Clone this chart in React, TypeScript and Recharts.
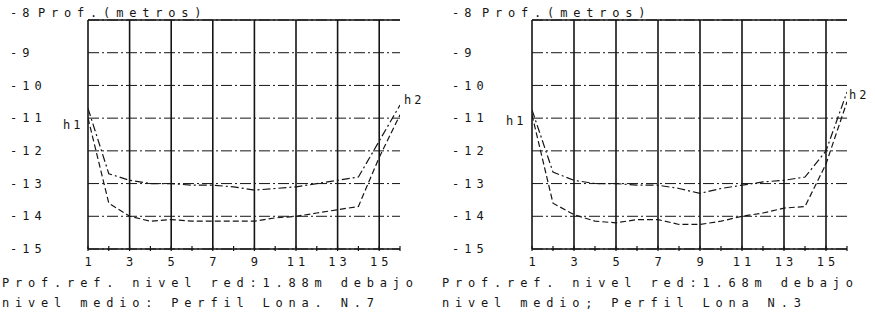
import React from 'react';
import { LineChart, Line, XAxis, YAxis, CartesianGrid, ReferenceLine } from 'recharts';

// Stations along the profile (x axis)
const stations = [1, 2, 3, 4, 5, 6, 7, 8, 9, 10, 11, 12, 13, 14, 15, 16];
const xTicks = [1, 2, 3, 4, 5, 6, 7, 8, 9, 10, 11, 12, 13, 14, 15, 16];
const xLabelTicks = [1, 3, 5, 7, 9, 11, 13, 15];
const yTicks = [-15, -14, -13, -12, -11, -10, -9, -8];

// Left panel (Perfil Lona N.7)
const leftUpper = [-10.7, -12.7, -12.9, -13.0, -13.0, -13.05, -13.05, -13.1, -13.2, -13.15, -13.1, -13.0, -12.9, -12.8, -11.7, -10.6];
const leftLower = [-11.0, -13.6, -14.0, -14.15, -14.1, -14.15, -14.15, -14.15, -14.15, -14.05, -14.0, -13.9, -13.8, -13.7, -12.2, -10.9];

// Right panel (Perfil Lona N.3)
const rightUpper = [-10.75, -12.65, -12.9, -13.0, -13.0, -13.05, -13.05, -13.15, -13.3, -13.15, -13.05, -12.95, -12.9, -12.8, -12.0, -10.2];
const rightLower = [-10.9, -13.6, -13.95, -14.15, -14.2, -14.1, -14.1, -14.25, -14.25, -14.15, -14.0, -13.9, -13.75, -13.7, -12.4, -10.5];

const titleText = 'Prof.(metros)';
const leftNotes = ['Prof.ref. nivel red:1.88m debajo', 'nivel medio: Perfil Lona. N.7'];
const rightNotes = ['Prof.ref. nivel red:1.68m debajo', 'nivel medio; Perfil Lona N.3'];

const FONT = '"DejaVu Sans Mono", "Liberation Mono", monospace';
const INK = '#151515';
const textStyle: React.CSSProperties = {
  position: 'absolute',
  fontFamily: FONT,
  fontSize: 12,
  letterSpacing: 5.8,
  lineHeight: '14px',
  color: INK,
  whiteSpace: 'pre',
};

const build = (up: number[], lo: number[]) =>
  stations.map((s, i) => ({ x: s, upper: up[i], lower: lo[i] }));

const makeYTick = (labelX: number) => (props: any) => {
  const { y, payload } = props;
  const shift = payload.value === -8 ? -7 : 0;
  return (
    <text x={labelX} y={y + shift} dy="0.35em" textAnchor="start" fontFamily={FONT} fontSize={12} letterSpacing={5} fill={INK}>
      {String(payload.value)}
    </text>
  );
};

const XTick = (props: any) => {
  const { x, y, payload } = props;
  const showLabel = xLabelTicks.includes(payload.value);
  return (
    <g>
      <line x1={x} y1={y - 3} x2={x} y2={y + 2} stroke={INK} strokeWidth={1.2} />
      {showLabel && (
        <text x={x + 2} y={y + 13} dy="0.35em" textAnchor="middle" fontFamily={FONT} fontSize={12} letterSpacing={4} fill={INK}>
          {String(payload.value)}
        </text>
      )}
    </g>
  );
};

const pointLabel = (text: string, idx: number, dx: number, dy: number) => (props: any) => {
  if (props.index !== idx) return null;
  return (
    <text key={text} x={props.x + dx} y={props.y + dy} dy="0.35em" textAnchor="start" fontFamily={FONT} fontSize={12} letterSpacing={3} fill={INK}>
      {text}
    </text>
  );
};

type PanelProps = {
  left: number;
  width: number;
  yAxisWidth: number;
  marginRight: number;
  labelX: number;
  up: number[];
  lo: number[];
  h1: [number, number];
  h2: [number, number];
};

const Panel = ({ left, width, yAxisWidth, marginRight, labelX, up, lo, h1, h2 }: PanelProps) => {
  const data = build(up, lo);
  return (
    <div style={{ position: 'absolute', left, top: 0 }}>
      <LineChart width={width} height={320} data={data} margin={{ top: 20, right: marginRight, bottom: 51, left: 0 }}>
        <CartesianGrid vertical={false} stroke={INK} strokeWidth={1} strokeDasharray="11 3 2 3" />
        {xLabelTicks.map((t) => (
          <ReferenceLine key={'v' + t} x={t} stroke={INK} strokeWidth={1.6} ifOverflow="extendDomain" />
        ))}
        <ReferenceLine y={-8} stroke={INK} strokeWidth={1.3} />
        <XAxis
          dataKey="x"
          type="number"
          domain={[1, 16]}
          ticks={xTicks}
          interval={0}
          height={20}
          tickLine={false}
          tickSize={0}
          tickMargin={0}
          axisLine={{ stroke: INK, strokeWidth: 1.6 }}
          tick={<XTick />}
          allowDataOverflow
        />
        <YAxis
          type="number"
          domain={[-15, -8]}
          ticks={yTicks}
          interval={0}
          width={yAxisWidth}
          axisLine={false}
          tickLine={false}
          tick={makeYTick(labelX)}
          allowDataOverflow
        />
        <Line
          dataKey="upper"
          type="linear"
          stroke={INK}
          strokeWidth={1.2}
          strokeDasharray="8 3 2 3"
          dot={false}
          isAnimationActive={false}
          label={pointLabel('h2', stations.length - 1, h2[0], h2[1])}
        />
        <Line
          dataKey="lower"
          type="linear"
          stroke={INK}
          strokeWidth={1.2}
          strokeDasharray="6 3"
          dot={false}
          isAnimationActive={false}
          label={pointLabel('h1', 0, h1[0], h1[1])}
        />
      </LineChart>
    </div>
  );
};

export default function App() {
  return (
    <div style={{ position: 'absolute', left: 0, top: 0, width: 875, height: 320, background: '#fff', overflow: 'hidden' }}>
      <Panel left={0} width={440} yAxisWidth={88} marginRight={40} labelX={10} up={leftUpper} lo={leftLower} h1={[-25, 7]} h2={[4, -5]} />
      <Panel left={440} width={435} yAxisWidth={92} marginRight={28} labelX={12} up={rightUpper} lo={rightLower} h1={[-26, 6]} h2={[2, 3]} />
      <div style={{ ...textStyle, left: 38, top: 6 }}>{titleText}</div>
      <div style={{ ...textStyle, left: 482, top: 6 }}>{titleText}</div>
      <div style={{ ...textStyle, left: 2, top: 276 }}>{leftNotes[0]}</div>
      <div style={{ ...textStyle, left: 2, top: 296 }}>{leftNotes[1]}</div>
      <div style={{ ...textStyle, left: 442, top: 276 }}>{rightNotes[0]}</div>
      <div style={{ ...textStyle, left: 442, top: 296 }}>{rightNotes[1]}</div>
    </div>
  );
}
